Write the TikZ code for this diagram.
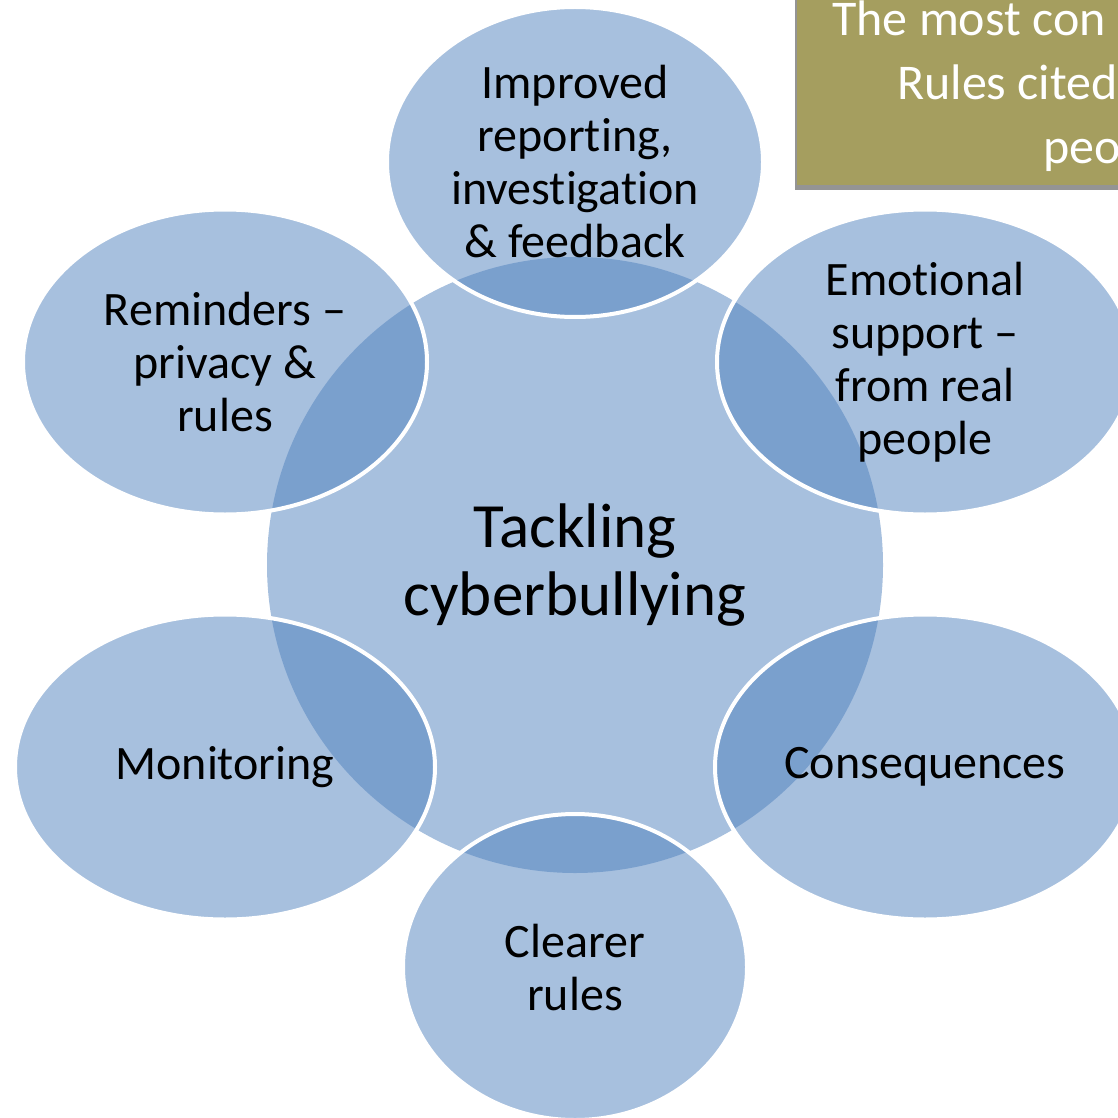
\documentclass[tikz,border=0pt]{standalone}
\usepackage{fontspec}
\setmainfont[Ligatures={TeX,NoCommon}]{Carlito}
\usetikzlibrary{shapes.geometric,shadows}

\definecolor{bubbleblue}{HTML}{4F81BD}
\definecolor{noteolive}{HTML}{A59E5F}

\begin{document}
\begin{tikzpicture}[x=1pt,y=-1pt,
		bubble/.style={ellipse, fill=bubbleblue, fill opacity=.5, text opacity=1,
			draw=white, line width=4pt, inner sep=0pt, align=center,
			font=\fontsize{48}{53}\selectfont},
		hubdisc/.style={circle, fill=bubbleblue, fill opacity=.5, text opacity=1,
			inner sep=0pt, align=center, font=\fontsize{63}{68}\selectfont}]
	\useasboundingbox (0,0) rectangle (1118,1118);

	% Olive note box in the corner
	\fill[noteolive, drop shadow={shadow xshift=-2pt, shadow yshift=-5pt, opacity=.7, fill=black!60}]
	(797,-20) rectangle (1140,185);
	\node[anchor=north west, align=left, text=white, inner sep=0pt,
		font=\fontsize{50}{64}\selectfont] (note) at (832,1)
		{The most con\\\hspace*{65pt}Rules cited\\\hspace*{211pt}peo};

	% Hub
	\node[hubdisc, minimum size=616pt] (hub) at (575,565) {Tackling\\cyberbullying};

	% Satellites, white rim drawn over the hub
	\node[bubble, minimum width=376pt, minimum height=310pt] (reporting) at (575,162)
		{Improved\\reporting,\\investigation\\\& feedback};
	\node[bubble, minimum width=404pt, minimum height=305pt] (reminders) at (225,362)
		{Reminders –\\privacy \&\\rules};
	\node[bubble, minimum width=416pt, minimum height=305pt] (support) at (925,362)
		{Emotional\\support –\\from real\\people};
	\node[bubble, minimum width=420pt, minimum height=305pt] (monitoring) at (225,767)
		{Monitoring};
	\node[bubble, minimum width=420pt, minimum height=305pt] (consequences) at (925,767)
		{Consequences};
	\node[bubble, minimum width=344pt, minimum height=306pt] (clearer) at (575,967)
		{Clearer\\rules};

\end{tikzpicture}
\end{document}
